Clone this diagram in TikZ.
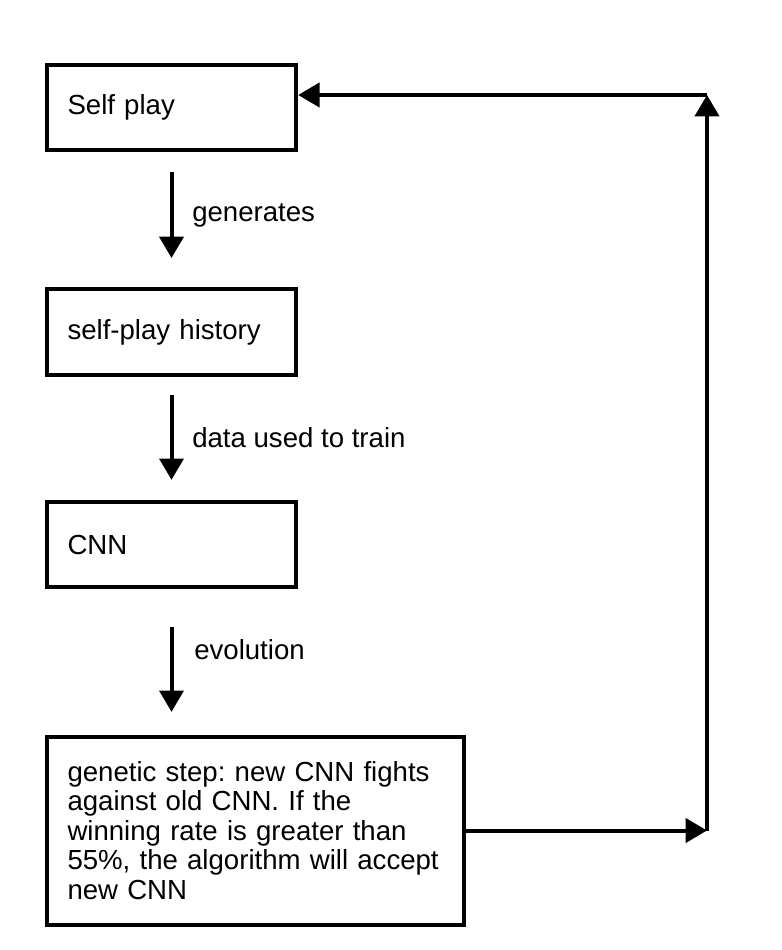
\documentclass[tikz,border=0pt]{standalone}
\usepackage{fontspec}
\setmainfont{Liberation Sans}
\usetikzlibrary{arrows.meta, positioning, calc}
\frenchspacing

\begin{document}
\begin{tikzpicture}[
  x=0.75pt, y=-0.75pt,
  box/.style={draw, line width=3pt, inner xsep=15.5pt, inner ysep=0pt,
              text width=#1, minimum height=64pt, align=left,
              font=\fontsize{20.7}{22.1}\selectfont},
  box/.default=156pt,
  arr/.style={-{Triangle[length=16pt, width=18pt]}, line width=3pt},
  lbl/.style={anchor=west, inner sep=0pt, font=\fontsize{20.7}{22.1}\selectfont}
]
\useasboundingbox (0,0) rectangle (782,950);

% Steps
\node[box]        (self) at (171.5,107.5) {Self play};
\node[box]        (hist) at (171.5,332)   {self-play history};
\node[box]        (cnn)  at (171.5,544.5) {CNN};
\node[box=282pt, minimum height=141pt] (gen) at (255.5,830.5)
  {genetic step: new CNN fights\\against old CNN. If the\\winning rate is greater than\\55\%, the algorithm will accept\\new CNN};

\draw[arr, shorten <=15pt, shorten >=22pt] (self) -- (hist);
\draw[arr, shorten <=14pt, shorten >=15pt] (hist) -- (cnn);
\draw[arr, shorten <=28pt, shorten >=17pt] (cnn.south) -- (cnn.south |- gen.north);

\node[lbl] at (192,215) {generates};
\node[lbl] at (192,438) {data used to train};
\node[lbl] at (194,650) {evolution};

% Loop back
\coordinate (br) at (707,830.5);
\coordinate (tr) at (707,95);
\draw[arr] (gen.east) -- (br);
\draw[arr] (br) -- (tr);
\draw[arr] (tr) -- (tr -| self.east);
\end{tikzpicture}
\end{document}
